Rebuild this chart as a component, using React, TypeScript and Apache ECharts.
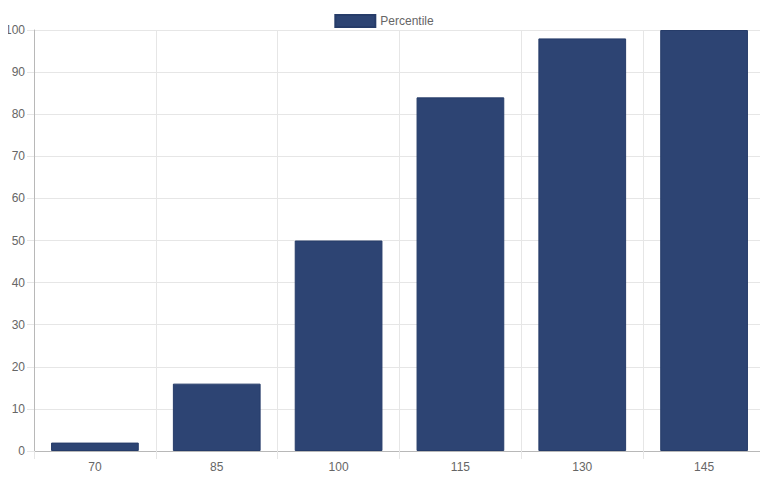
import { useEffect, useRef } from "react";
import * as echarts from "echarts";

const categories = ["70", "85", "100", "115", "130", "145"];
const percentile = [2, 16, 50, 84, 98, 100];
const seriesName = "Percentile";

const App = () => {
  const chartRef = useRef<HTMLDivElement>(null);

  useEffect(() => {
    if (!chartRef.current) return;
    const chart = echarts.init(chartRef.current, undefined, { renderer: "svg" });

    const options = {
      animation: false,
      backgroundColor: "#ffffff",
      textStyle: { fontFamily: "Liberation Sans, Arial, sans-serif" },
      legend: {
        top: 9,
        left: "center",
        itemWidth: 40,
        itemHeight: 12,
        itemGap: 10,
        icon: "rect",
        textStyle: { color: "#666666", fontSize: 12 },
        data: [seriesName],
      },
      grid: { left: 34, right: 3, top: 30, bottom: 29, containLabel: false },
      xAxis: {
        type: "category",
        data: categories,
        boundaryGap: true,
        axisLine: { show: true, lineStyle: { color: "#b8b8b8" } },
        axisTick: { show: true, length: 8, alignWithLabel: false, lineStyle: { color: "#e6e6e6" } },
        axisLabel: { color: "#666666", fontSize: 12, margin: 10 },
        splitLine: { show: true, lineStyle: { color: "#e6e6e6" } },
      },
      yAxis: {
        type: "value",
        min: 0,
        max: 100,
        interval: 10,
        axisLine: { show: true, lineStyle: { color: "#b8b8b8" } },
        axisTick: { show: true, length: 7, lineStyle: { color: "#e6e6e6" } },
        axisLabel: { color: "#666666", fontSize: 12, margin: 9 },
        splitLine: { show: true, lineStyle: { color: "#e6e6e6" } },
      },
      series: [
        {
          name: seriesName,
          type: "bar",
          data: percentile,
          barWidth: "72%",
          itemStyle: { color: "#2d4473", borderColor: "#263c69", borderWidth: 1 },
        },
      ],
    };

    chart.setOption(options);
    return () => {
      chart.dispose();
    };
  }, []);

  return <div ref={chartRef} style={{ width: "768px", height: "480px", margin: "-8px" }} />;
};

export default App;
